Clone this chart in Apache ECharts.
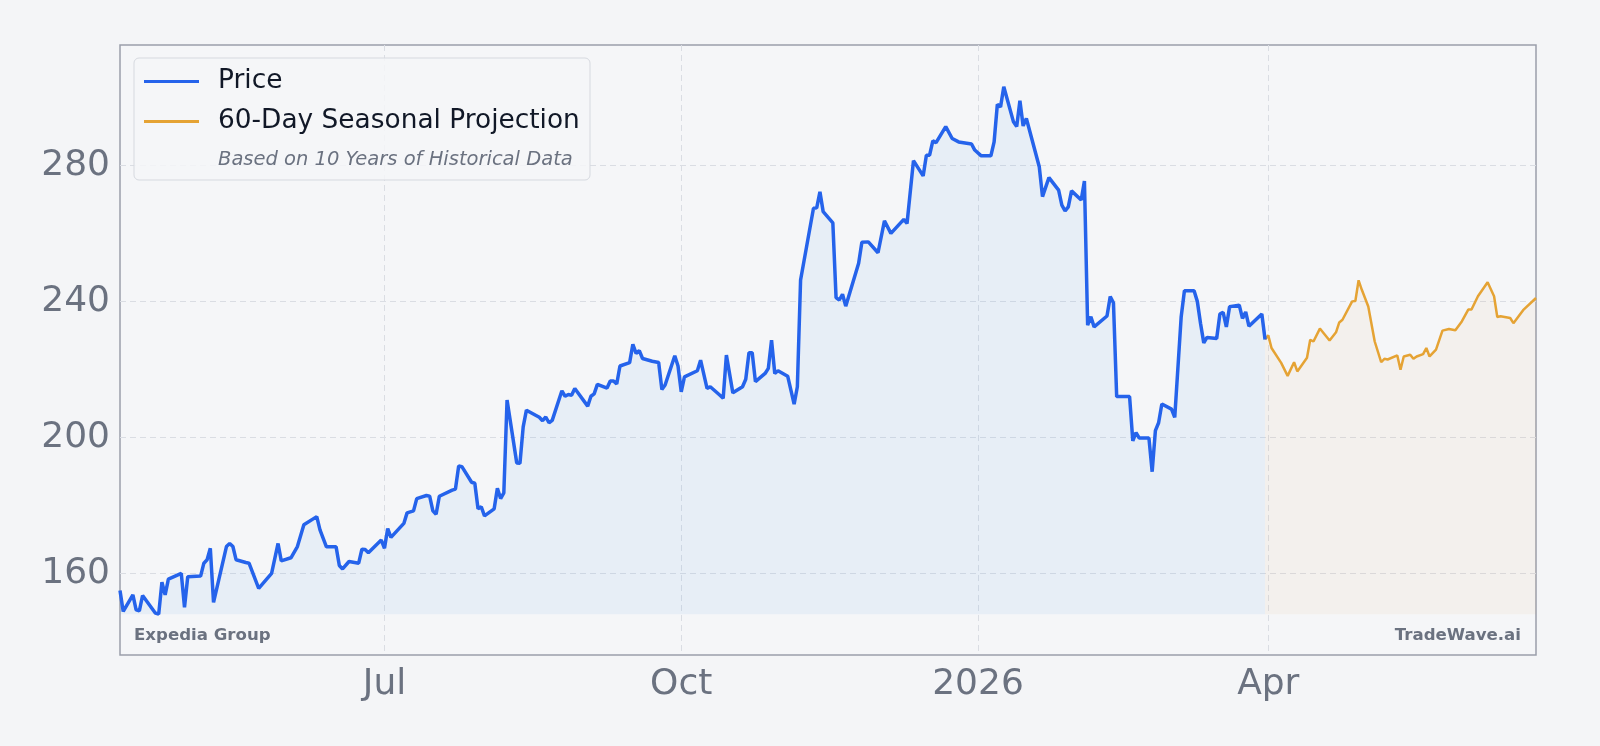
<!DOCTYPE html>
<html lang="en">
<head>
    <meta charset="UTF-8">
    <title>Expedia Group - Seasonal Projection</title>
    <script src="https://cdn.jsdelivr.net/npm/echarts@6.0.0/dist/echarts.min.js"></script>
    <style>
        html, body { margin: 0; padding: 0; background: #f4f5f7; }
        #chart { width: 1600px; height: 746px; }
    </style>
</head>
<body>
<div id="chart"></div>

<script type="text/javascript">
    // price (trading days)
    var priceDates = [
        '2025-04-10', '2025-04-11', '2025-04-14', '2025-04-15', '2025-04-16', '2025-04-17', '2025-04-21', '2025-04-22',
        '2025-04-23', '2025-04-24', '2025-04-25', '2025-04-29', '2025-04-30', '2025-05-01', '2025-05-05', '2025-05-06',
        '2025-05-07', '2025-05-08', '2025-05-09', '2025-05-13', '2025-05-14', '2025-05-15', '2025-05-16', '2025-05-19',
        '2025-05-20', '2025-05-23', '2025-05-27', '2025-05-29', '2025-05-30', '2025-06-02', '2025-06-04', '2025-06-06',
        '2025-06-10', '2025-06-11', '2025-06-13', '2025-06-16', '2025-06-17', '2025-06-18', '2025-06-20', '2025-06-23',
        '2025-06-24', '2025-06-25', '2025-06-26', '2025-06-30', '2025-07-01', '2025-07-02', '2025-07-03', '2025-07-07',
        '2025-07-08', '2025-07-10', '2025-07-11', '2025-07-14', '2025-07-15', '2025-07-16', '2025-07-17', '2025-07-18',
        '2025-07-22', '2025-07-23', '2025-07-24', '2025-07-25', '2025-07-28', '2025-07-29', '2025-07-30', '2025-07-31',
        '2025-08-01', '2025-08-04', '2025-08-05', '2025-08-06', '2025-08-07', '2025-08-08', '2025-08-11', '2025-08-12',
        '2025-08-13', '2025-08-14', '2025-08-18', '2025-08-19', '2025-08-20', '2025-08-21', '2025-08-22', '2025-08-25',
        '2025-08-26', '2025-08-27', '2025-08-28', '2025-08-29', '2025-09-02', '2025-09-03', '2025-09-04', '2025-09-05',
        '2025-09-08', '2025-09-09', '2025-09-10', '2025-09-11', '2025-09-12', '2025-09-15', '2025-09-16', '2025-09-17',
        '2025-09-18', '2025-09-19', '2025-09-22', '2025-09-24', '2025-09-25', '2025-09-26', '2025-09-29', '2025-09-30',
        '2025-10-01', '2025-10-02', '2025-10-06', '2025-10-07', '2025-10-09', '2025-10-10', '2025-10-13', '2025-10-14',
        '2025-10-15', '2025-10-17', '2025-10-20', '2025-10-21', '2025-10-22', '2025-10-23', '2025-10-24', '2025-10-27',
        '2025-10-28', '2025-10-29', '2025-10-30', '2025-10-31', '2025-11-03', '2025-11-04', '2025-11-05', '2025-11-06',
        '2025-11-07', '2025-11-11', '2025-11-12', '2025-11-13', '2025-11-14', '2025-11-17', '2025-11-18', '2025-11-19',
        '2025-11-20', '2025-11-21', '2025-11-25', '2025-11-26', '2025-11-28', '2025-12-01', '2025-12-03', '2025-12-05',
        '2025-12-09', '2025-12-10', '2025-12-12', '2025-12-15', '2025-12-16', '2025-12-17', '2025-12-18', '2025-12-19',
        '2025-12-22', '2025-12-24', '2025-12-26', '2025-12-30', '2025-12-31', '2026-01-02', '2026-01-05', '2026-01-06',
        '2026-01-07', '2026-01-08', '2026-01-09', '2026-01-12', '2026-01-13', '2026-01-14', '2026-01-15', '2026-01-16',
        '2026-01-20', '2026-01-21', '2026-01-23', '2026-01-26', '2026-01-27', '2026-01-28', '2026-01-29', '2026-01-30',
        '2026-02-02', '2026-02-03', '2026-02-04', '2026-02-05', '2026-02-06', '2026-02-10', '2026-02-11', '2026-02-12',
        '2026-02-13', '2026-02-17', '2026-02-18', '2026-02-19', '2026-02-20', '2026-02-23', '2026-02-24', '2026-02-25',
        '2026-02-26', '2026-02-27', '2026-03-02', '2026-03-03', '2026-03-05', '2026-03-06', '2026-03-09', '2026-03-10',
        '2026-03-11', '2026-03-12', '2026-03-13', '2026-03-16', '2026-03-17', '2026-03-18', '2026-03-19', '2026-03-20',
        '2026-03-23', '2026-03-24', '2026-03-25', '2026-03-26', '2026-03-30', '2026-03-31'
    ];
    var priceValues = [
        155, 148.8, 153.7, 149.3, 149, 153.5, 148.3, 148,
        157.4, 153.7, 158.3, 160, 150, 159, 159.2, 163,
        164, 167.4, 151.5, 167.9, 168.8, 167.9, 164, 163.2,
        163, 155.6, 160, 168.8, 163.7, 164.6, 167.9, 174.3,
        176.7, 172.8, 167.8, 167.8, 162.3, 161.3, 163.5, 163,
        167.1, 167, 166.1, 169.8, 167.4, 173.2, 170.6, 174.7,
        177.8, 178.4, 182, 182.9, 182.7, 178.4, 177.4, 182.7,
        184.5, 184.8, 191.6, 191.4, 186.8, 186.5, 179, 179.6,
        176.9, 179, 185, 182, 183.7, 211, 192.5, 192.4,
        203.1, 208, 205.9, 204.9, 206, 204.3, 205, 213.7,
        212.1, 212.6, 212.4, 214.4, 209.2, 212.1, 212.8, 215.6,
        214.5, 216.6, 216.6, 215.7, 221, 222, 227.4, 224.7,
        225.5, 223.2, 222.4, 222, 214.1, 215.4, 224, 221,
        213.4, 217.8, 219.6, 222.7, 214.4, 214.9, 212.4, 211.5,
        224.2, 213.1, 214.9, 217.1, 224.9, 224.9, 216.4, 218.8,
        220.3, 228.6, 218.8, 219.6, 218, 213.9, 209.8, 214.9,
        246.3, 267.4, 267.5, 272.2, 266.4, 263.1, 241.1, 240.4,
        242.1, 238.6, 251.2, 257.4, 257.5, 254.3, 263.7, 260,
        264.1, 262.9, 281.4, 276.9, 283, 283, 287.2, 286.7,
        291.4, 287.9, 286.9, 286.3, 284.5, 282.8, 282.8, 286.9,
        297.9, 297.2, 303.1, 292.8, 291.4, 299, 291.6, 293.8,
        279.6, 270.8, 276.4, 272.7, 268.3, 266.6, 267.8, 272.5,
        269.8, 275.4, 233, 235.5, 232.5, 235.7, 241.4, 239.6,
        212, 212, 199, 201.4, 199.8, 199.8, 189.9, 202,
        204.3, 209.8, 208.3, 205.9, 235.5, 243.1, 243.1, 240,
        233.5, 227.8, 229.4, 229.1, 236.3, 236.8, 232.5, 238.4,
        238.9, 235, 236.9, 232.7, 236.3, 228.8
    ];

    // 60-day seasonal projection
    var projDates = [
        '2026-03-31', '2026-04-01', '2026-04-02', '2026-04-05', '2026-04-07', '2026-04-09', '2026-04-10', '2026-04-13',
        '2026-04-14', '2026-04-15', '2026-04-17', '2026-04-20', '2026-04-22', '2026-04-23', '2026-04-24', '2026-04-27',
        '2026-04-28', '2026-04-29', '2026-04-30', '2026-05-02', '2026-05-04', '2026-05-06', '2026-05-07', '2026-05-08',
        '2026-05-11', '2026-05-12', '2026-05-13', '2026-05-15', '2026-05-16', '2026-05-17', '2026-05-19', '2026-05-20',
        '2026-05-21', '2026-05-23', '2026-05-25', '2026-05-27', '2026-05-29', '2026-05-31', '2026-06-02', '2026-06-03',
        '2026-06-05', '2026-06-08', '2026-06-10', '2026-06-11', '2026-06-12', '2026-06-15', '2026-06-16', '2026-06-19',
        '2026-06-23'
    ];
    var projValues = [
        228.8, 230, 226.3, 221.9, 218.1, 222.1, 219.4, 223.4,
        228.7, 228.2, 232, 228.5, 230.9, 233.8, 234.6, 240,
        240.1, 246.2, 243.4, 238.5, 228.2, 222.1, 223.1, 222.9,
        224.1, 219.9, 223.8, 224.3, 223.1, 223.8, 224.5, 226.3,
        223.8, 225.8, 231.4, 231.9, 231.5, 234.1, 237.6, 237.6,
        241.5, 245.6, 241.5, 235.4, 235.6, 235.1, 233.6, 237.4,
        241
    ];

    var xTicks = ['2025-07-01', '2025-10-01', '2026-01-01', '2026-04-01'];
    var yTicks = [160, 200, 240, 280];
    var xRange = ['2025-04-10', '2026-06-23'];
    var yRange = [136, 315.4];
    var monthNames = ['Jan', 'Feb', 'Mar', 'Apr', 'May', 'Jun', 'Jul', 'Aug', 'Sep', 'Oct', 'Nov', 'Dec'];

    // dates -> UTC ms, so a plain value axis can place them
    function ts(s) {
        return Date.parse(s + 'T00:00:00Z');
    }
    function zip(dates, vals) {
        var out = [];
        for (var i = 0; i < dates.length; i++) out.push([ts(dates[i]), vals[i]]);
        return out;
    }
    var fillBase = Math.min.apply(null, priceValues);

    var font = 'DejaVu Sans';
    var gridColor = '#dadde3';

    var chart = echarts.init(document.getElementById('chart'));
    var option = {
        animation: false,
        backgroundColor: '#f4f5f7',
        textStyle: { fontFamily: font },
        grid: {
            left: 120, top: 45, right: 64, bottom: 91,
            show: true,
            backgroundColor: '#f5f6f8',
            borderColor: '#9a9fab',
            borderWidth: 1.5,
            outerBoundsMode: 'none'
        },
        legend: {
            data: ['Price', '60-Day Seasonal Projection'],
            orient: 'vertical',
            left: 139,
            top: 62,
            z: 6,
            itemWidth: 55,
            itemHeight: 3,
            itemGap: 11,
            icon: 'rect',
            textStyle: {
                fontFamily: font,
                fontSize: 26.4,
                color: '#111827',
                lineHeight: 29,
                padding: [0, 0, 0, 14]
            }
        },
        xAxis: {
            type: 'value',
            min: ts(xRange[0]),
            max: ts(xRange[1]),
            axisLine: { show: false },
            axisTick: { show: false, customValues: xTicks.map(ts) },
            axisLabel: {
                customValues: xTicks.map(ts),
                fontSize: 36,
                color: '#6b7280',
                margin: 12,
                formatter: function (v) {
                    var d = new Date(v);
                    return d.getUTCMonth() === 0 ? String(d.getUTCFullYear()) : monthNames[d.getUTCMonth()];
                }
            },
            splitLine: {
                show: true,
                lineStyle: { color: gridColor, width: 1, type: [6, 4] }
            }
        },
        yAxis: {
            type: 'value',
            min: yRange[0],
            max: yRange[1],
            axisLine: { show: false },
            axisTick: { show: false, customValues: yTicks },
            axisLabel: {
                customValues: yTicks,
                fontSize: 36,
                color: '#6b7280',
                margin: 10,
                padding: [12, 0, 0, 0]
            },
            splitLine: {
                show: true,
                lineStyle: { color: gridColor, width: 1, type: [6, 4] }
            }
        },
        graphic: [
            {
                type: 'rect',
                z: 5,
                shape: { x: 134, y: 58, width: 456, height: 122, r: 5 },
                style: { fill: 'rgba(245,246,248,0.85)', stroke: '#d6d9df', lineWidth: 1 }
            },
            {
                type: 'text',
                z: 6,
                left: 218,
                top: 150,
                style: {
                    text: 'Based on 10 Years of Historical Data',
                    font: 'italic 19.5px "DejaVu Sans"',
                    fill: '#6b7280'
                }
            },
            {
                type: 'text',
                z: 6,
                left: 134,
                top: 627,
                style: { text: 'Expedia Group', font: 'bold 16.6px "DejaVu Sans"', fill: '#6b7280' }
            },
            {
                type: 'text',
                z: 6,
                right: 79,
                top: 627,
                style: { text: 'TradeWave.ai', font: 'bold 16.6px "DejaVu Sans"', fill: '#6b7280' }
            }
        ],
        series: [
            {
                name: 'Price',
                type: 'line',
                data: zip(priceDates, priceValues),
                showSymbol: false,
                color: '#2563eb',
                lineStyle: { width: 3.5, color: '#2563eb' },
                areaStyle: { color: 'rgba(59,140,220,0.1)', origin: fillBase },
                z: 3
            },
            {
                name: '60-Day Seasonal Projection',
                type: 'line',
                data: zip(projDates, projValues),
                showSymbol: false,
                color: '#e5a334',
                lineStyle: { width: 2.5, color: '#e5a334' },
                areaStyle: { color: 'rgba(217,150,50,0.08)', origin: fillBase },
                z: 2
            }
        ]
    };
    chart.setOption(option);
</script>
</body>
</html>
